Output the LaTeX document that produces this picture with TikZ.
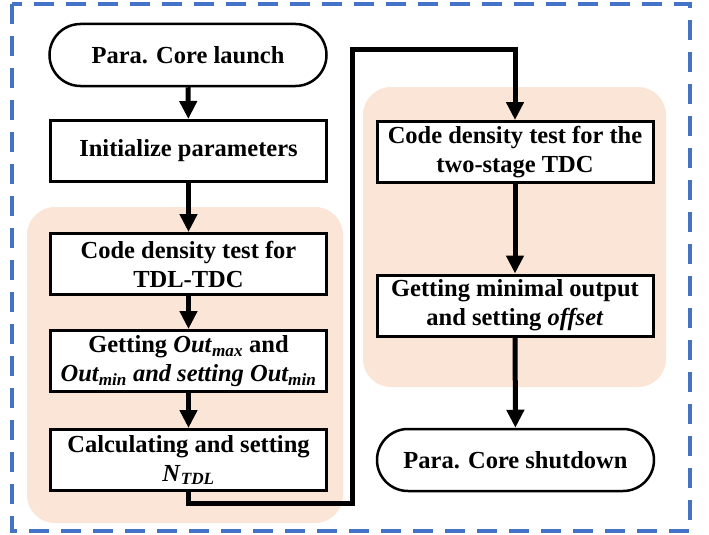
\documentclass[tikz,border=0pt]{standalone}
\usepackage{fontspec}
\setmainfont{Liberation Serif}
\usetikzlibrary{arrows.meta}
\definecolor{peach}{RGB}{251,229,214}
\definecolor{dashblue}{RGB}{68,114,196}
\begin{document}
\begin{tikzpicture}[x=1pt,y=-1pt,
  txt/.style={font=\fontsize{24.5}{29}\selectfont\bfseries, align=center, inner sep=0pt},
  procbox/.style={txt, draw, line width=3pt, fill=white, minimum width=276pt, minimum height=61pt},
  term/.style={txt, draw, line width=2.5pt, fill=white, rounded corners=31pt, minimum width=277pt, minimum height=62pt},
  arr/.style={line width=5pt, -{Triangle[length=18pt,width=17pt]}},
  region/.style={fill=peach, draw=none, rounded corners=28pt}]
\useasboundingbox (0,0) rectangle (709,535);
% outer dashed frame
\draw[dashblue, line width=4pt, dash pattern=on 20pt off 12pt] (12,4) rectangle (690,531);
% shaded regions
\fill[region] (27,207) rectangle (343,523);
\fill[region] (363,87) rectangle (666,387);
% nodes
\node[term] (start) at (188,55) {Para. Core launch};
\node[procbox] (init) at (188.5,151) {Initialize parameters};
\node[procbox] (b2) at (188.5,264) {Code density test for\\TDL-TDC};
\node[procbox] (b3) at (188.5,361) {Getting \textit{Out}\textsubscript{\textit{max}} and\\\textit{Out\textsubscript{min} and setting Out\textsubscript{min}}};
\node[procbox] (b4) at (188.5,460) {Calculating and setting\\\textit{N}\textsubscript{\textit{TDL}}};
\node[procbox] (b5) at (515,152) {Code density test for the\\two-stage TDC};
\node[procbox] (b6) at (515,305.5) {Getting minimal output\\and setting \textit{offset}};
\node[term] (stop) at (515.5,460) {Para. Core shutdown};
% connectors
\coordinate (c1) at (352,503);
\coordinate (c2) at (352,50);
\draw[arr] (start) -- (init);
\draw[arr] (init) -- (b2);
\draw[arr] (b2) -- (b3);
\draw[arr] (b3) -- (b4);
\draw[arr] (b4.south) |- (c1) -- (c2) -| (b5.north);
\draw[arr] (b5) -- (b6);
\draw[arr] (b6) -- (stop);
\end{tikzpicture}
\end{document}
